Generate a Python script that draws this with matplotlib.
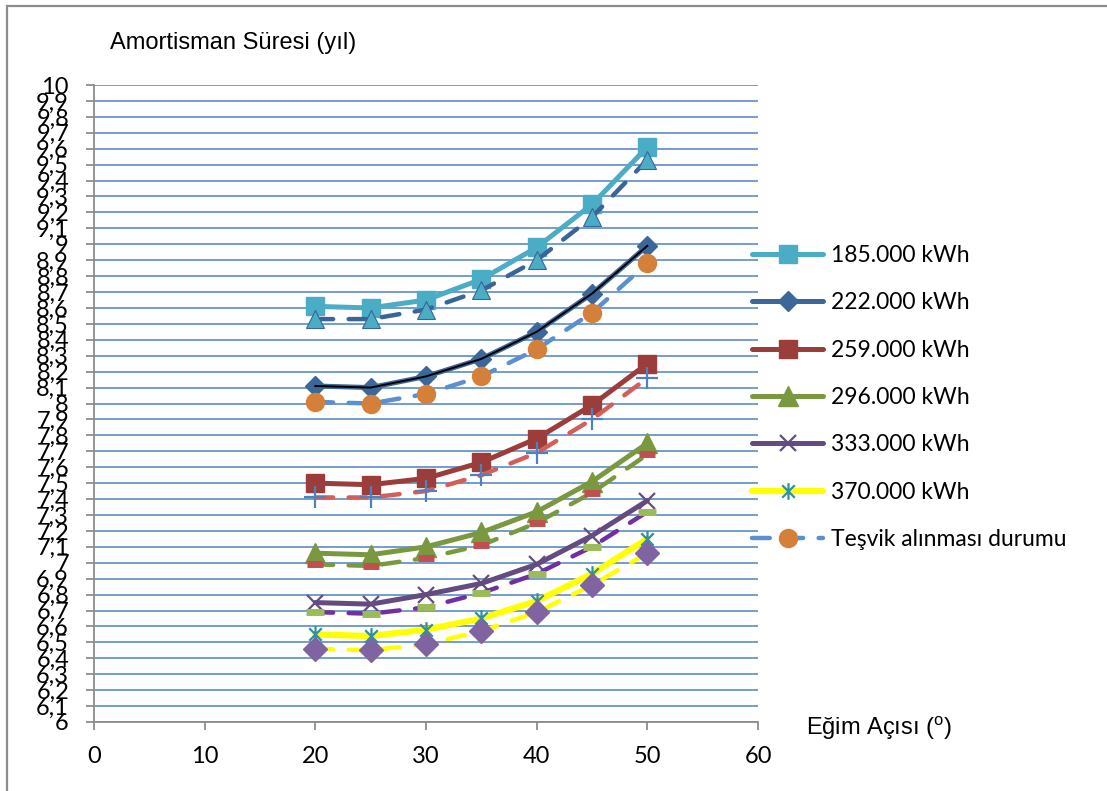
import matplotlib
matplotlib.use("Agg")
import matplotlib.pyplot as plt
from matplotlib.patches import Rectangle
from matplotlib.path import Path
from matplotlib.ticker import FixedLocator, FuncFormatter

plt.rcParams['mathtext.fontset'] = 'custom'
plt.rcParams['mathtext.rm'] = 'Liberation Sans'

# data
angles = [20, 25, 30, 35, 40, 45, 50]

kwh_185 = [8.61, 8.60, 8.65, 8.78, 8.98, 9.25, 9.61]
kwh_222 = [8.11, 8.10, 8.17, 8.28, 8.45, 8.69, 8.99]
kwh_259 = [7.50, 7.49, 7.53, 7.63, 7.78, 7.99, 8.25]
kwh_296 = [7.06, 7.05, 7.10, 7.19, 7.32, 7.51, 7.75]
kwh_333 = [6.75, 6.74, 6.80, 6.87, 6.99, 7.17, 7.39]
kwh_370 = [6.55, 6.54, 6.58, 6.65, 6.76, 6.93, 7.15]

# incentive ("Teşvik") cases
tes_185 = [8.53, 8.53, 8.59, 8.71, 8.90, 9.17, 9.53]
tes_222 = [8.01, 8.00, 8.06, 8.17, 8.34, 8.57, 8.88]
tes_259 = [7.41, 7.41, 7.45, 7.55, 7.69, 7.90, 8.16]
tes_296 = [6.99, 6.98, 7.03, 7.11, 7.25, 7.44, 7.68]
tes_333 = [6.69, 6.68, 6.72, 6.81, 6.93, 7.10, 7.32]
tes_370 = [6.46, 6.45, 6.49, 6.57, 6.69, 6.86, 7.06]

labels = ["185.000 kWh", "222.000 kWh", "259.000 kWh", "296.000 kWh",
          "333.000 kWh", "370.000 kWh"]
tes_label = "Teşvik alınması durumu"

# Excel style star: vertical bar plus an X
star = Path([(0, -1), (0, 1), (-0.75, -0.75), (0.75, 0.75), (-0.75, 0.75), (0.75, -0.75)],
            [Path.MOVETO, Path.LINETO] * 3)

fig = plt.figure(figsize=(11.07, 7.91), dpi=100)
ax = fig.add_axes([94/1107, 1 - 722/791, (758 - 94)/1107, (722 - 85)/791])

lw = 3.6
main_styles = [
    dict(color='#4BACC6', marker='s', ms=13),
    dict(color='#3C679B', marker='D', ms=10),
    dict(color='#9B3D3A', marker='s', ms=13),
    dict(color='#7A983F', marker='^', ms=14),
    dict(color='#644C80', marker='x', ms=12, mew=1.6),
    dict(color='#FFFF00', marker=star, ms=12, mew=1.6, mec='#2F8FA3', mfc='#2F8FA3'),
]
main_data = [kwh_185, kwh_222, kwh_259, kwh_296, kwh_333, kwh_370]

handles = []
for vals, lab, st in zip(main_data, labels, main_styles):
    lwi = 4.5 if st['color'] == '#FFFF00' else lw
    h, = ax.plot(angles, vals, lw=lwi, solid_capstyle='round', label=lab, zorder=3, **st)
    handles.append(h)

# trend line drawn over the 222.000 kWh series
ax.plot(angles, kwh_222, color='black', lw=1.4, zorder=4)

tes_data = [tes_185, tes_222, tes_259, tes_296, tes_333, tes_370]
tes_styles = [
    dict(color='#3A6598', marker='^', ms=13, mfc='#4BACC6', mec='#3A6598', mew=0.8),
    dict(color='#5B8FD0', marker='o', ms=13, mfc='#D4803A', mec='#D4803A'),
    dict(color='#D45E5A', marker='+', ms=16, mec='#4F81BD', mew=1.6),
    dict(color='#7A983F', marker='_', ms=11, mec='#C0504D', mew=5),
    dict(color='#7030A0', marker='_', ms=13, mec='#9BBB59', mew=5),
    dict(color='#FFFF00', marker='D', ms=12, mfc='#8064A2', mec='#8064A2'),
]
tes_handle = None
for vals, st in zip(tes_data, tes_styles):
    h, = ax.plot(angles, vals, lw=3.2, dashes=(4, 3.5), dash_capstyle='round',
                 zorder=5, **st)
    if st['marker'] == 'o':
        tes_handle = h
handles.append(tes_handle)

ax.set_xlim(0, 60)
ax.set_ylim(6, 10)
ax.set_xticks([0, 10, 20, 30, 40, 50, 60])
yt = [6 + i/10 for i in range(41)]
ax.yaxis.set_major_locator(FixedLocator(yt))
ax.yaxis.set_major_formatter(FuncFormatter(
    lambda v, p: f"{v:.0f}" if abs(v - round(v)) < 1e-6 else f"{v:.1f}".replace('.', ',')))

ax.grid(axis='y', color='#4F81BD', lw=1.1, zorder=1)
ax.set_axisbelow(True)
for s in ['top', 'right']:
    ax.spines[s].set_visible(False)
for s in ['left', 'bottom']:
    ax.spines[s].set_color('#8C8C8C')
    ax.spines[s].set_linewidth(1.3)
ax.tick_params(axis='both', direction='out', length=6, width=1.3, color='#8C8C8C',
               labelsize=17, labelcolor='black')
ax.tick_params(axis='y', pad=12)
ax.tick_params(axis='x', pad=11)
for t in ax.get_xticklabels() + ax.get_yticklabels():
    t.set_family('Lato')

fig.text(110/1107, 1 - 43/791, "Amortisman Süresi (yıl)", fontsize=17,
         family='Liberation Sans', va='center', ha='left')
fig.text(806/1107, 1 - 728/791, r"Eğim Açısı ($^{\mathrm{o}}$)", fontsize=17,
         family='Liberation Sans', va='center', ha='left')

leg = fig.legend(handles=handles, labels=labels + [tes_label], loc='upper left',
                 bbox_to_anchor=(752/1107, 1 - 245/791), frameon=False,
                 borderpad=0, borderaxespad=0, handlelength=3.1, handletextpad=0.35,
                 labelspacing=1.15, prop={'family': 'Lato', 'size': 16.5})

# chart frame (left and top edges visible)
fig.add_artist(Rectangle((7/1107, -0.1), 1.2, 1 - 6/791 + 0.1, transform=fig.transFigure,
                         fill=False, edgecolor='#8C8C8C', lw=1.6))

fig.savefig("out.png", dpi=100)
